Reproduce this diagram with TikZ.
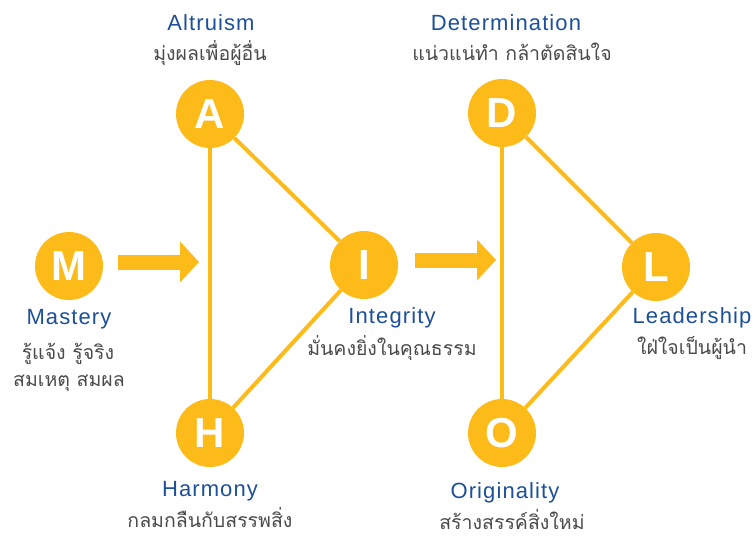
\documentclass[tikz,border=0pt]{standalone}
\usepackage{fontspec}
\setmainfont{Liberation Sans}
\newfontfamily\thaifont[Script=Thai]{Loma}
\newfontfamily\latinfont[LetterSpace=5]{Liberation Sans}
\newfontfamily\letterfont{Liberation Sans}
\usetikzlibrary{arrows.meta}
\definecolor{gold}{HTML}{FDBB1A}
\definecolor{tblue}{HTML}{1D4F9A}
\definecolor{tgray}{HTML}{4A4A4A}
\begin{document}
\begin{tikzpicture}[x=1pt,y=-1pt,
  hub/.style={circle, fill=gold, minimum size=68pt, inner sep=0pt, text=white,
    font=\letterfont\bfseries\fontsize{42}{42}\selectfont},
  link/.style={draw=gold, line width=4pt},
  bigarrow/.style={draw=gold, line width=15pt,
    -{Triangle[length=19pt,width=41pt,line width=0pt]}},
  en/.style={anchor=base, text=tblue, inner sep=0pt,
    font=\latinfont\fontsize{22}{26}\selectfont},
  th/.style={anchor=base, text=tgray, inner sep=0pt,
    font=\thaifont\fontsize{19.5}{24}\selectfont}]
\useasboundingbox (0,0) rectangle (756,541);

% hubs
\node[hub] (M) at (69,266) {M};
\node[hub] (A) at (210,114) {A};
\node[hub] (I) at (364,265) {I};
\node[hub] (H) at (210,433) {H};
\node[hub] (D) at (502,113) {D};
\node[hub] (L) at (656,267) {L};
\node[hub] (O) at (502,433) {O};

% links
\draw[link] (A) -- (H);
\draw[link] (A) -- (I);
\draw[link] (I) -- (H);
\draw[link] (D) -- (O);
\draw[link] (D) -- (L);
\draw[link] (L) -- (O);

% arrows
\coordinate (ma) at (118,262);
\coordinate (mb) at (199,262);
\coordinate (ia) at (415,260);
\coordinate (ib) at (496,260);
\draw[bigarrow] (ma) -- (mb);
\draw[bigarrow] (ia) -- (ib);

% labels
\node[en] (tA) at (211,30) {Altruism};
\node[th] (sA) at (210,60) {มุ่งผลเพื่อผู้อื่น};
\node[en] (tD) at (506,30) {Determination};
\node[th] (sD) at (512,60) {แน่วแน่ทำ กล้าตัดสินใจ};
\node[en] (tM) at (69,324) {Mastery};
\node[th] (sM1) at (68,359) {รู้แจ้ง รู้จริง};
\node[th] (sM2) at (69,386) {สมเหตุ สมผล};
\node[en] (tI) at (392,323) {Integrity};
\node[th] (sI) at (392,355) {มั่นคงยิ่งในคุณธรรม};
\node[en] (tL) at (692,323) {Leadership};
\node[th] (sL) at (692,354) {ใฝ่ใจเป็นผู้นำ};
\node[en] (tH) at (210,496) {Harmony};
\node[th] (sH) at (210,527) {กลมกลืนกับสรรพสิ่ง};
\node[en] (tO) at (505,498) {Originality};
\node[th] (sO) at (512,529) {สร้างสรรค์สิ่งใหม่};
\end{tikzpicture}
\end{document}
